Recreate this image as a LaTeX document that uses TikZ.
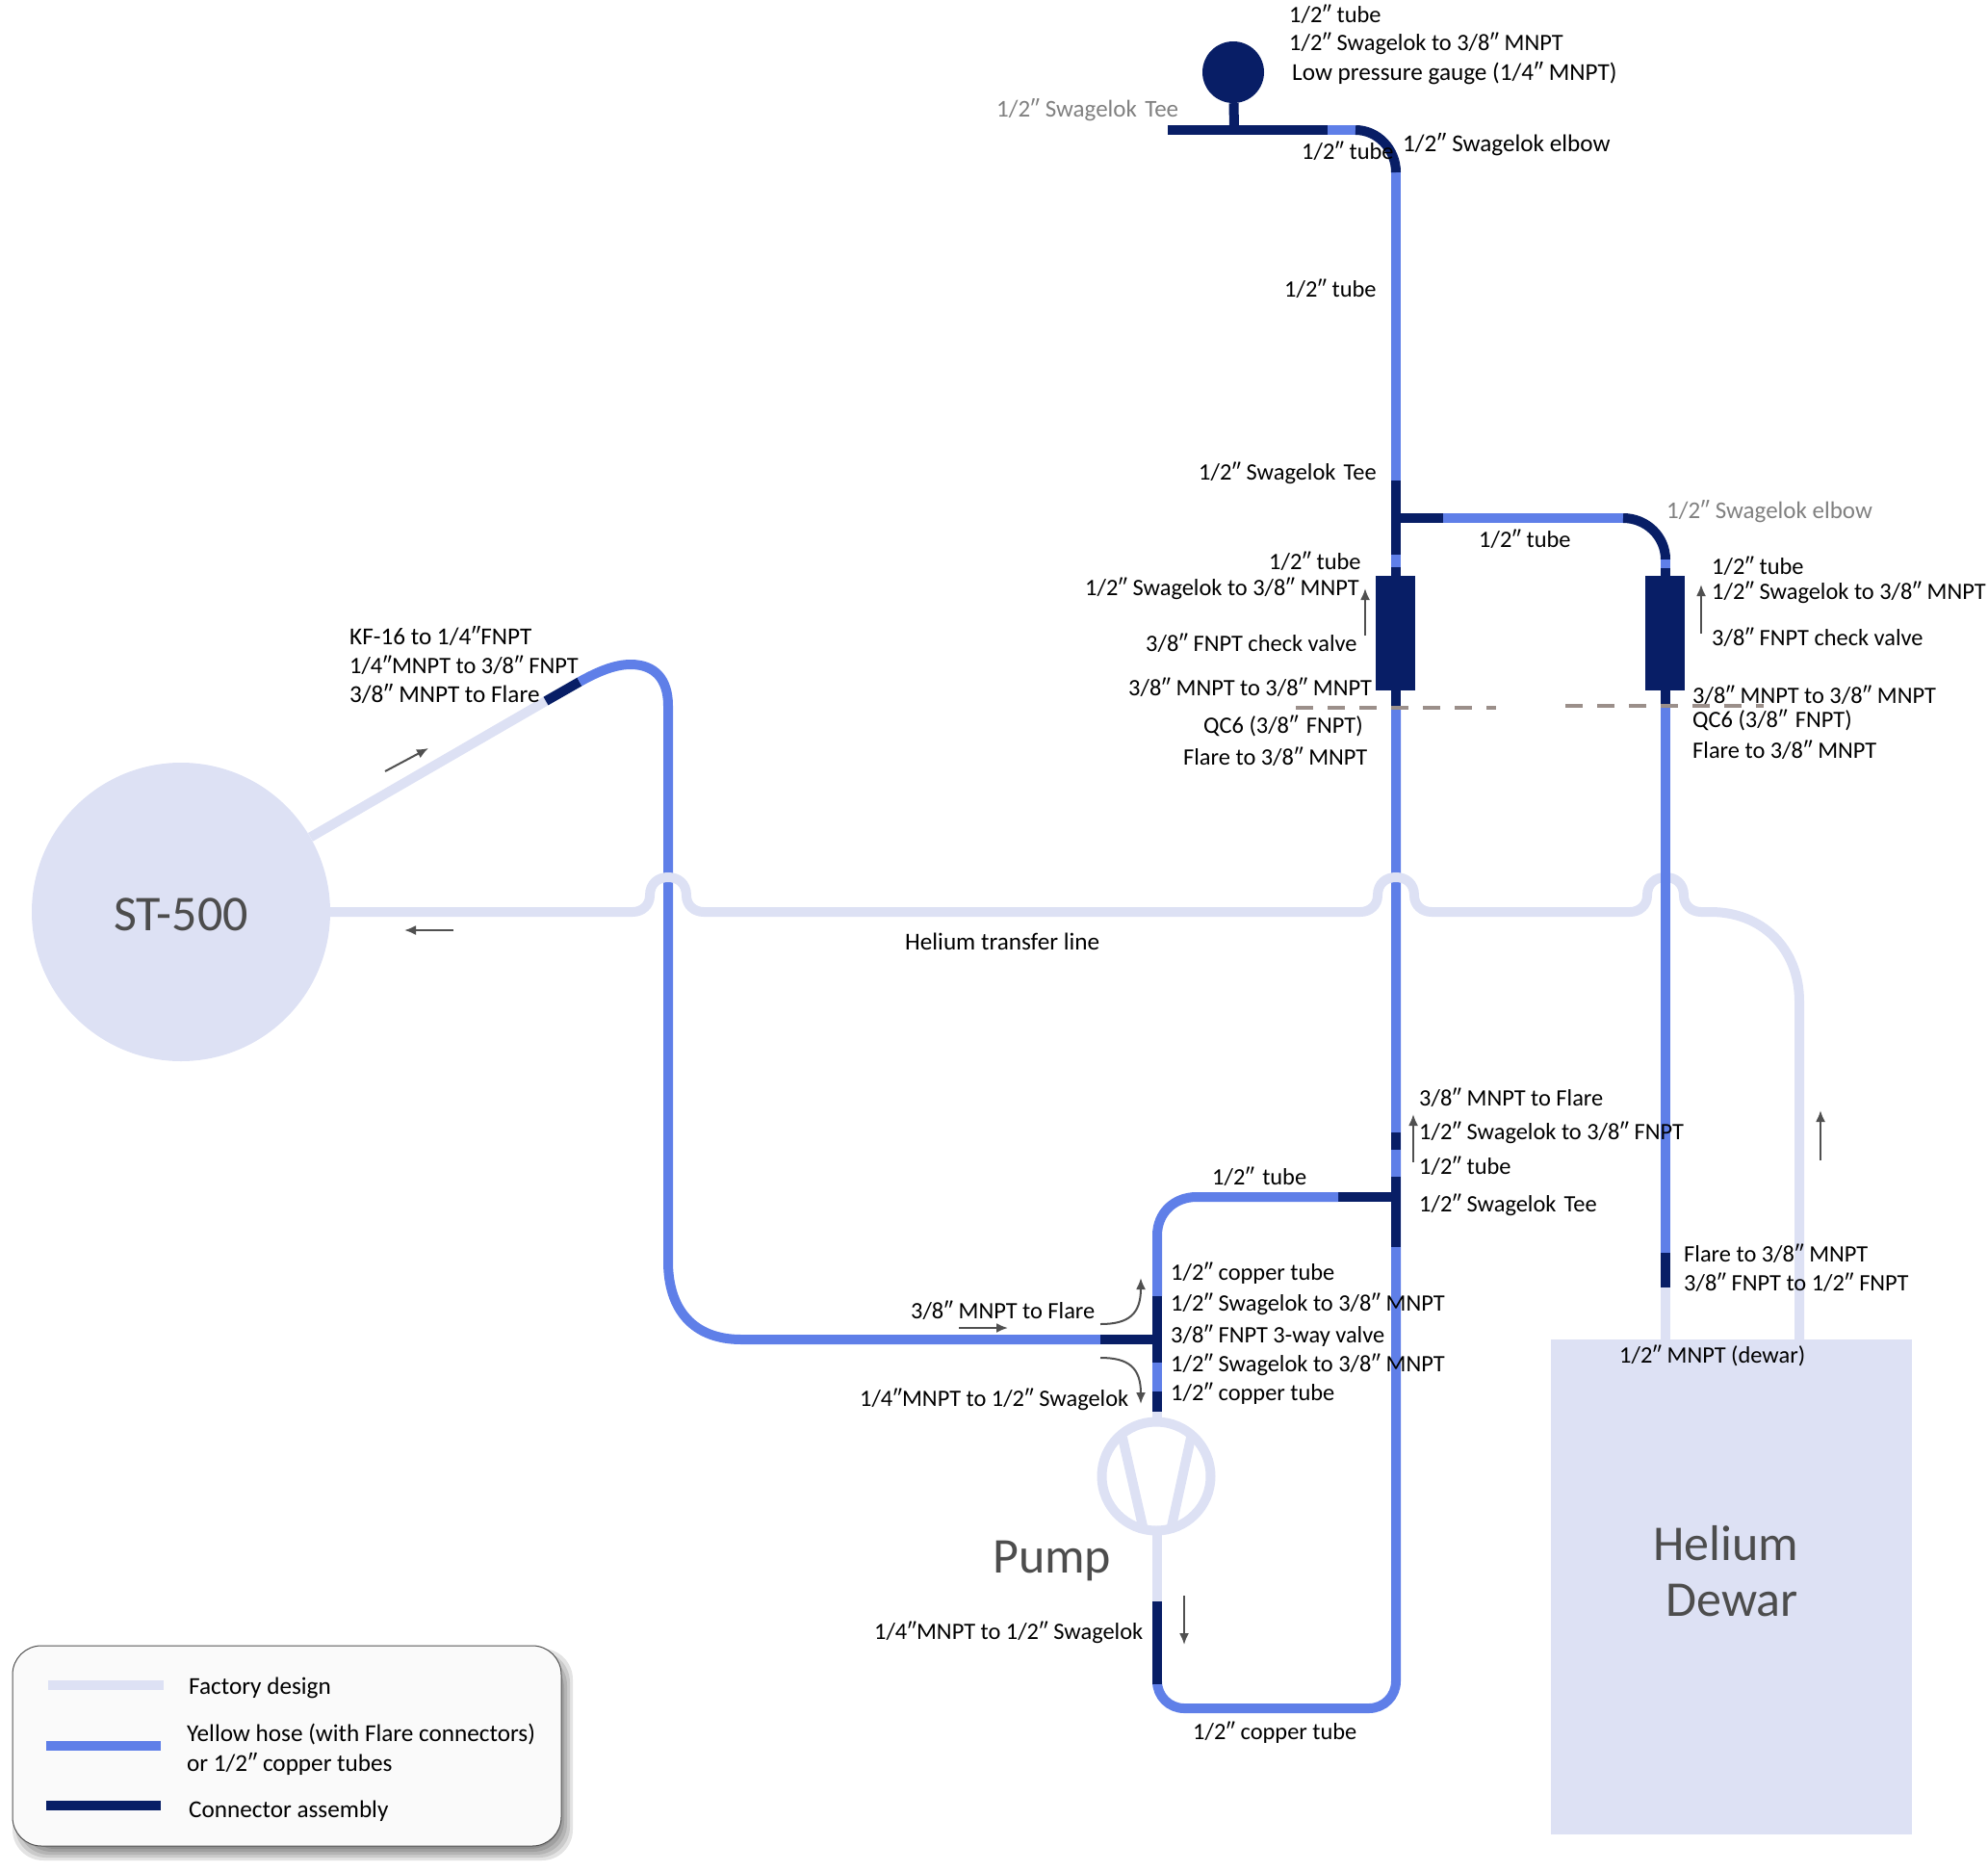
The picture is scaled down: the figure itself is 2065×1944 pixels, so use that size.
\documentclass[tikz,border=0pt]{standalone}
\usepackage{fontspec}
\setmainfont{Carlito}
\usepackage{tikz}
\usetikzlibrary{arrows.meta}
\definecolor{PipeDark}{RGB}{8,30,102}
\definecolor{PipeBlue}{RGB}{95,127,232}
\definecolor{PipeLight}{RGB}{221,225,244}
\definecolor{CutGrey}{RGB}{155,143,138}
\definecolor{FlowGrey}{RGB}{80,80,80}
\definecolor{BigText}{RGB}{77,77,77}
\definecolor{SideText}{RGB}{128,128,128}
\newcommand{\hopover}[1]{-- (#1-37,947) .. controls (#1-27,947) and (#1-19,940) .. (#1-19,930) .. controls (#1-19,917) and (#1-10,911) .. (#1,911) .. controls (#1+10,911) and (#1+19,917) .. (#1+19,930) .. controls (#1+19,940) and (#1+27,947) .. (#1+37,947)}
\tikzset{
  factory/.style={draw=PipeLight,line width=10pt},
  hose/.style={draw=PipeBlue,line width=10pt},
  assembly/.style={draw=PipeDark,line width=10pt},
  cutline/.style={draw=CutGrey,line width=4pt,dash pattern=on 18pt off 15pt},
  flow/.style={draw=FlowGrey,line width=2pt,-{Latex[length=12pt,width=10pt]}},
  note/.style={anchor=west,inner sep=0pt,yshift=-1.3pt,font=\fontsize{24.4}{29}\selectfont},
  sidenote/.style={note,text=SideText,font=\fontsize{25}{29}\selectfont},
  widenote/.style={note,font=\fontsize{25.2}{29}\selectfont},
  bigname/.style={inner sep=0pt,text=BigText,font=\fontsize{52}{60}\selectfont},
  valvebox/.style={fill=PipeDark,minimum width=41pt,minimum height=119pt,inner sep=0pt}
}
\begin{document}
\begin{tikzpicture}[x=1pt,y=-1pt]
\useasboundingbox (0,0) rectangle (2065,1944);
% vessels
\node[circle,fill=PipeLight,minimum size=310pt,inner sep=0pt] (st) at (188,947) {};
\node[fill=PipeLight,minimum width=375pt,minimum height=514pt,inner sep=0pt] (dewar) at (1798.5,1648) {};
\node[circle,factory,minimum size=113pt,inner sep=0pt] (pump) at (1201,1533) {};
\node[circle,fill=PipeDark,minimum size=64pt,inner sep=0pt] (gauge) at (1281,75) {};
\node[valvebox] (checkL) at (1449,657.5) {};
\node[valvebox] (checkR) at (1729,657.5) {};
% legend
\foreach \g in {-6,-3,0,3,6}
  \fill[black,opacity=.11,rounded corners=32pt] (19-\g,1718-\g) rectangle (589+\g,1926+\g);
\node[draw=FlowGrey,line width=1pt,fill=white!98!black,rounded corners=30pt,minimum width=570pt,minimum height=208pt,inner sep=0pt] (legend) at (298,1813) {};
\coordinate (fa) at (50,1750); \coordinate (fb) at (170,1750);
\coordinate (ha) at (48,1813); \coordinate (hb) at (167,1813);
\coordinate (ca) at (48,1875); \coordinate (cb) at (167,1875);
\draw[factory] (fa)--(fb);
\draw[hose] (ha)--(hb);
\draw[assembly] (ca)--(cb);
% pump suction and first hose
\draw[factory] (st.30)--(567,728);
\draw[assembly] (567,728)--(602,708);
\draw[hose] (602,708) .. controls (620,698) and (638,690) .. (655,690) .. controls (680,690) and (694,705) .. (694,733) -- (694,1310) .. controls (694,1360) and (720,1391) .. (770,1391) -- (1143,1391);
\draw[assembly] (1143,1391)--(1202,1391);
% main riser
\draw[hose] (1450,179)--(1450,499);
\draw[hose,rounded corners=28pt] (1450,735)--(1450,1774)--(1202,1774)--(1202,1749);
\draw[assembly] (1213,135)--(1379,135);
\draw[hose] (1379,135)--(1408,135);
\draw[assembly] (1408,135) .. controls (1431,135) and (1450,155) .. (1450,179);
\draw[assembly] (gauge)--(1282,135);
\draw[assembly] (1450,499)--(1450,576);
\draw[hose] (1450,576)--(1450,589);
\draw[assembly] (1450,717)--(1450,735);
\draw[assembly] (1450,589)--(1450,598);
\draw[assembly] (1450,538)--(1499,538);
\draw[hose] (1499,538)--(1686,538);
\draw[assembly] (1686,538) .. controls (1710,538) and (1730,557) .. (1730,581);
\draw[hose] (1730,581)--(1730,590);
\draw[assembly] (1730,590)--(1730,598);
\draw[assembly] (1730,717)--(1730,735);
% lower tee
\draw[assembly] (1450,1176)--(1450,1194);
\draw[assembly] (1450,1222)--(1450,1295);
\draw[assembly] (1390,1243)--(1450,1243);
\draw[hose] (1390,1243)--(1243,1243) .. controls (1219,1243) and (1202,1260) .. (1202,1283) -- (1202,1346);
\draw[assembly] (1202,1346)--(1202,1415);
\draw[hose] (1202,1415)--(1202,1445);
\draw[assembly] (1202,1445)--(1202,1466);
\draw[factory] (1202,1466)--(1202,1477);
\draw[factory] (1166,1493)--(1187,1585);
\draw[factory] (1237,1493)--(1217,1585);
\draw[factory] (1202,1590)--(1202,1663);
\draw[assembly] (1202,1663)--(1202,1749);
% helium transfer line
\draw[factory] (st.east) \hopover{694} \hopover{1450} \hopover{1730} -- (1777,947) .. controls (1830,947) and (1869,985) .. (1869,1040) -- (1869,1391);
\draw[hose] (1730,735)--(1730,1301);
\draw[assembly] (1730,1301)--(1730,1337);
\draw[factory] (1730,1337)--(1730,1391);
\draw[cutline] (1346,735)--(1554,735);
\draw[cutline] (1626,733)--(1832,733);
% flow directions
\coordinate (dg1) at (400,801); \coordinate (dg2) at (445,777);
\coordinate (rt1) at (471,966); \coordinate (rt2) at (420,966);
\coordinate (cl1) at (1418,660); \coordinate (cl2) at (1418,611);
\coordinate (cr1) at (1767,658); \coordinate (cr2) at (1767,607);
\coordinate (up1) at (1468,1207); \coordinate (up2) at (1468,1157);
\coordinate (ht1) at (1891,1205); \coordinate (ht2) at (1891,1153);
\coordinate (fl1) at (996,1379); \coordinate (fl2) at (1047,1379);
\coordinate (va1) at (1143,1375); \coordinate (va2) at (1185,1327);
\coordinate (vb1) at (1143,1410); \coordinate (vb2) at (1185,1458);
\coordinate (pu1) at (1230,1657); \coordinate (pu2) at (1230,1708);
\draw[flow] (dg1)--(dg2);
\draw[flow] (rt1)--(rt2);
\draw[flow] (cl1)--(cl2);
\draw[flow] (cr1)--(cr2);
\draw[flow] (up1)--(up2);
\draw[flow] (ht1)--(ht2);
\draw[flow] (fl1)--(fl2);
\draw[flow] (va1) .. controls (1172,1375) and (1185,1365) .. (va2);
\draw[flow] (vb1) .. controls (1172,1410) and (1185,1420) .. (vb2);
\draw[flow] (pu1)--(pu2);
% labels
\node[note] (g1) at (1339,13) {1/2″ tube};
\node[note] (g2) at (1339,44) {1/2″ Swagelok to 3/8″ MNPT};
\node[widenote] (g3) at (1342,75) {Low pressure gauge (1/4″ MNPT)};
\node[sidenote] (g4) at (1035,113) {1/2″ Swagelok\,\,Tee};
\node[note] (g5) at (1352,155) {1/2″ tube};
\node[widenote] (g6) at (1457,149) {1/2″ Swagelok elbow};
\node[note] (m1) at (1334,298) {1/2″ tube};
\node[note] (m2) at (1245,490) {1/2″ Swagelok\,\,Tee};
\node[sidenote] (m3) at (1731,530) {1/2″ Swagelok elbow};
\node[note] (m4) at (1536,558) {1/2″ tube};
\node[note] (a1) at (1318,581) {1/2″ tube};
\node[note] (a2) at (1127,610) {1/2″ Swagelok to 3/8″ MNPT};
\node[note] (a3) at (1190,666) {3/8″ FNPT check valve};
\node[note] (a4) at (1172,712) {3/8″ MNPT to 3/8″ MNPT};
\node[note] (a5) at (1250,753) {QC6 (3/8″\,\,FNPT)};
\node[note] (a6) at (1229,784) {Flare to 3/8″ MNPT};
\node[note] (b1) at (1778,586) {1/2″ tube};
\node[note] (b2) at (1778,614) {1/2″ Swagelok to 3/8″ MNPT};
\node[note] (b3) at (1778,660) {3/8″ FNPT check valve};
\node[note] (b4) at (1758,720) {3/8″ MNPT to 3/8″ MNPT};
\node[note] (b5) at (1758,747) {QC6 (3/8″\,\,FNPT)};
\node[note] (b6) at (1758,777) {Flare to 3/8″ MNPT};
\node[widenote] (k1) at (363,659) {KF-16 to 1/4″FNPT};
\node[note] (k2) at (363,689) {1/4″MNPT to 3/8″ FNPT};
\node[widenote] (k3) at (363,719) {3/8″ MNPT to Flare};
\node[widenote] (tl) at (940,977) {Helium transfer line};
\node[note] (c1) at (1474,1138) {3/8″ MNPT to Flare};
\node[note] (c2) at (1474,1175) {1/2″ Swagelok to 3/8″ FNPT};
\node[note] (c3) at (1474,1209) {1/2″ tube};
\node[note] (c4) at (1474,1250) {1/2″ Swagelok\,\,Tee};
\node[note] (c5) at (1259,1220) {1/2″\,\,tube};
\node[note] (d1) at (1749,1300) {Flare to 3/8″ MNPT};
\node[note] (d2) at (1749,1330) {3/8″ FNPT to 1/2″ FNPT};
\node[note] (d3) at (1682,1407) {1/2″ MNPT (dewar)};
\node[note] (v1) at (1216,1321) {1/2″ copper tube};
\node[note] (v2) at (1216,1353) {1/2″ Swagelok to 3/8″ MNPT};
\node[note] (v3) at (1216,1386) {3/8″ FNPT 3-way valve};
\node[note] (v4) at (1216,1416) {1/2″ Swagelok to 3/8″ MNPT};
\node[note] (v5) at (1216,1446) {1/2″ copper tube};
\node[note] (v6) at (946,1359) {3/8″ MNPT to Flare};
\node[note] (v7) at (893,1452) {1/4″MNPT to 1/2″ Swagelok};
\node[note] (p1) at (908,1694) {1/4″MNPT to 1/2″ Swagelok};
\node[note] (p2) at (1239,1798) {1/2″ copper tube};
\node[widenote] (l1) at (196,1752) {Factory design};
\node[widenote] (l2) at (194,1800) {Yellow hose (with Flare connectors)};
\node[widenote] (l3) at (194,1831) {or 1/2″ copper tubes};
\node[widenote] (l4) at (196,1879) {Connector assembly};
\node[bigname] (stname) at (188,950) {ST-500};
\node[bigname,anchor=west] (pumpname) at (1031,1621) {Pump};
\node[bigname] (heA) at (1793,1603) {Helium};
\node[bigname] (heB) at (1799,1662) {Dewar};
\end{tikzpicture}
\end{document}
